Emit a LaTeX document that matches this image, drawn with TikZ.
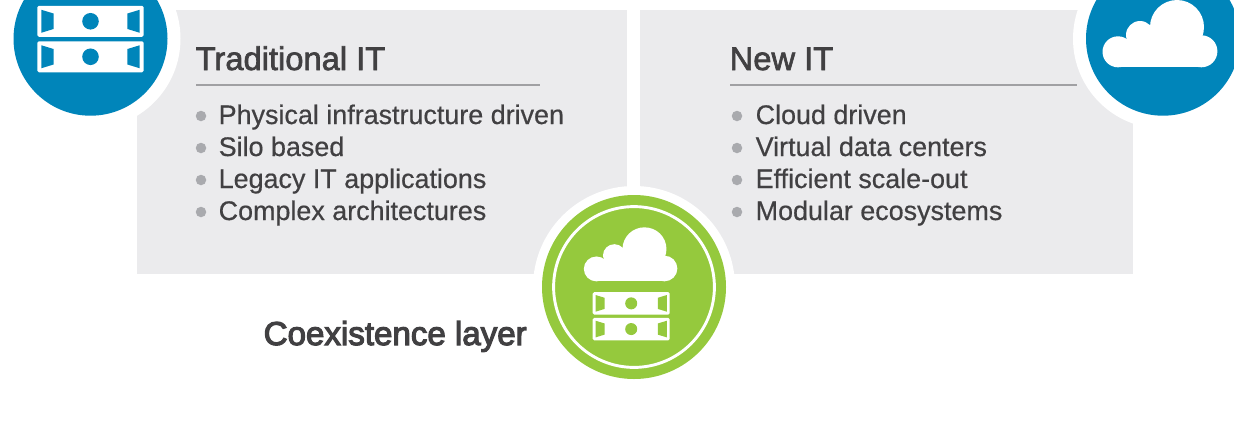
\documentclass[tikz,border=0pt]{standalone}
\usepackage{fontspec}
\setmainfont{Liberation Sans}
\newfontfamily\medfont[FakeBold=2]{Liberation Sans}
\newfontfamily\strongfont[FakeBold=3.5]{Liberation Sans}
\newfontfamily\lightmed[FakeBold=0.5]{Liberation Sans}
\definecolor{ibmblue}{HTML}{0085BA}
\definecolor{ibmgreen}{HTML}{95C93D}
\definecolor{panelgray}{HTML}{EBEBED}
\definecolor{rulegray}{HTML}{A0A0A3}
\definecolor{dotgray}{HTML}{A9AAAE}
\definecolor{inkgray}{HTML}{414042}
\tikzset{
  panel/.style={fill=panelgray,draw=none},
  halo/.style={fill=white,draw=none},
  title/.style={anchor=base west,inner sep=0pt,text=inkgray,font=\medfont\fontsize{32.7}{36}\selectfont},
  item/.style={anchor=base west,inner sep=0pt,text=inkgray,font=\lightmed\fontsize{26.9}{32}\selectfont},
  dot/.style={circle,fill=dotgray,draw=none,inner sep=0pt,minimum size=10.5pt},
  rulel/.style={draw=rulegray,line width=1.4pt},
  pics/server/.style={code={
    \foreach \yy in {-17.75,17.75}{
      \fill[white,rounded corners=1.5pt] (-53.2,\yy-15.5) rectangle (53.2,\yy+15.5);
      \fill[#1] (0,\yy) circle (8.3);
      \fill[#1] (-49.2,\yy-11.5) -- (-36.8,\yy-7.7) -- (-36.8,\yy+7.7) -- (-49.2,\yy+11.5) -- cycle;
      \fill[#1] (49.2,\yy-11.5) -- (36.8,\yy-7.7) -- (36.8,\yy+7.7) -- (49.2,\yy+11.5) -- cycle;
    }
  }},
  pics/cloud/.style={code={
    \fill[white] (-42.2,18.2) circle (15.5);
    \fill[white] (-20.2,1.4) circle (14);
    \fill[white] (16.8,-6.6) circle (27);
    \fill[white] (41.2,17.7) circle (16);
    \fill[white] (-42.2,10) rectangle (41.2,33.7);
    \fill[white] (-20,0) rectangle (30,20);
  }}
}
\begin{document}
\begin{tikzpicture}[x=1pt,y=-1pt]
\useasboundingbox (0,0) rectangle (1234,432);
\clip (0,0) rectangle (1234,432);
\fill[panel] (137,10) rectangle (627,274);
\fill[panel] (640,10) rectangle (1133,274);
\draw[rulel] (196,85) -- (540,85);
\draw[rulel] (730,85) -- (1077,85);
% halos and discs
\fill[halo] (90.5,38.7) circle (90);
\fill[halo] (1163,38.7) circle (90);
\fill[halo] (634,287) circle (101);
\fill[ibmblue] (90.5,38.7) circle (77);
\fill[ibmblue] (1163,38.7) circle (77);
\fill[ibmgreen] (634,287) circle (92);
\draw[white,line width=2.9pt] (634,287) circle (80.4);
\pic at (90.5,39) {server=ibmblue};
\pic at (1160.2,33.6) {cloud};
\pic[scale=.724] at (631.2,316.2) {server=ibmgreen};
\pic[xscale=.814,yscale=.803] at (630.8,254.3) {cloud};
% text
\node[title] (tl) at (195.5,70) {Traditional IT};
\node[title] (tr) at (729.5,70) {New IT};
\node[dot] (d1) at (201,116) {};
\node[dot] (d2) at (201,148) {};
\node[dot] (d3) at (201,180) {};
\node[dot] (d4) at (201,212) {};
\node[dot] (e1) at (737,116) {};
\node[dot] (e2) at (737,148) {};
\node[dot] (e3) at (737,180) {};
\node[dot] (e4) at (737,212) {};
\node[item] (a1) at (218.5,124) {Physical infrastructure driven};
\node[item] (a2) at (218.5,156) {Silo based};
\node[item] (a3) at (218.5,188) {Legacy IT applications};
\node[item] (a4) at (218.5,220) {Complex architectures};
\node[item] (b1) at (755.5,124) {Cloud driven};
\node[item] (b2) at (755.5,156) {Virtual data centers};
\node[item] (b3) at (755.5,188) {Efficient scale-out};
\node[item] (b4) at (755.5,220) {Modular ecosystems};
\node[anchor=base west,inner sep=0pt,text=inkgray,font=\strongfont\fontsize{33.1}{36}\selectfont] (co) at (263.5,345) {Coexistence layer};
\end{tikzpicture}
\end{document}
